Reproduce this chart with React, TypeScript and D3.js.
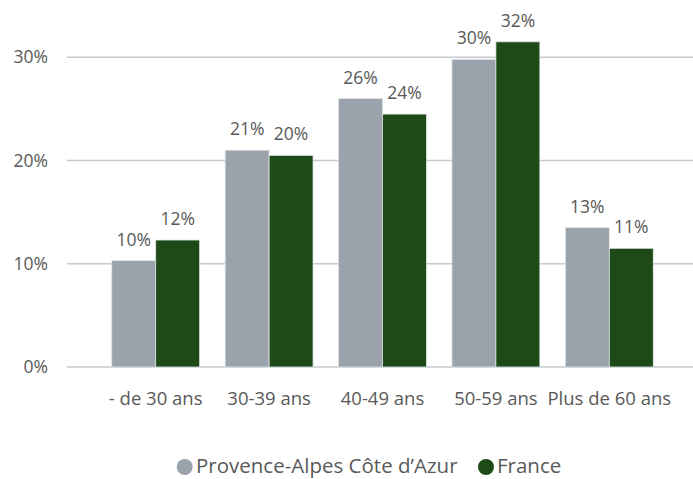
import * as d3 from "d3";

const categories = ["- de 30 ans", "30-39 ans", "40-49 ans", "50-59 ans", "Plus de 60 ans"];
const pacaValues = [10.3, 21.0, 26.0, 29.8, 13.5];
const franceValues = [12.3, 20.5, 24.5, 31.5, 11.5];
const pacaLabels = ["10%", "21%", "26%", "30%", "13%"];
const franceLabels = ["12%", "20%", "24%", "32%", "11%"];
const yTicks = [0, 10, 20, 30];
const seriesNames = ["Provence-Alpes Côte d’Azur", "France"];

const W = 693;
const H = 479;
const GREY = "#9aa3ac";
const GREEN = "#1e4a17";
const TEXT = "#595959";
const FONT = "'Open Sans', 'Noto Sans', sans-serif";

export default function App() {
  const x = d3.scaleBand<string>().domain(categories).range([99, 666]).paddingInner(0.225).paddingOuter(0.1125);
  const y = d3.scaleLinear().domain([0, 30]).range([367, 57.3]);
  const barW = x.bandwidth() / 2;

  const series = [
    { name: seriesNames[0], values: pacaValues, labels: pacaLabels, color: GREY },
    { name: seriesNames[1], values: franceValues, labels: franceLabels, color: GREEN },
  ];

  return (
    <svg
      width={W}
      height={H}
      style={{ position: "absolute", left: 0, top: 0, background: "#fff" }}
      fontFamily={FONT}
    >
      {yTicks.map((t) => (
        <g key={t}>
          <line x1={67} x2={693} y1={y(t)} y2={y(t)} stroke="#c5cad1" strokeWidth={1.5} />
          <text x={48} y={y(t)} dy="0.35em" textAnchor="end" fontSize={17.5} fill={TEXT}>
            {t}%
          </text>
        </g>
      ))}
      {series.map((s, si) => (
        <g key={s.name}>
          {categories.map((c, i) => {
            const bx = (x(c) ?? 0) + si * barW;
            return (
              <g key={c}>
                <rect
                  x={bx}
                  y={y(s.values[i])}
                  width={barW}
                  height={y(0) - y(s.values[i])}
                  fill={s.color}
                  stroke="#dfe3e6"
                  strokeWidth={0.8}
                />
                <text
                  x={bx + barW / 2}
                  y={y(s.values[i]) - 15}
                  textAnchor="middle"
                  fontSize={17.5}
                  fill={TEXT}
                >
                  {s.labels[i]}
                </text>
              </g>
            );
          })}
        </g>
      ))}
      {categories.map((c) => (
        <text
          key={c}
          x={(x(c) ?? 0) + x.bandwidth() / 2}
          y={405}
          textAnchor="middle"
          fontSize={18.5}
          fill={TEXT}
        >
          {c}
        </text>
      ))}
      <g>
        <circle cx={184.7} cy={467} r={8} fill={GREY} />
        <text x={196} y={473} fontSize={20.5} fill={TEXT}>
          {seriesNames[0]}
        </text>
        <circle cx={486} cy={467} r={8} fill={GREEN} />
        <text x={497} y={473} fontSize={20.5} fill={TEXT}>
          {seriesNames[1]}
        </text>
      </g>
    </svg>
  );
}
